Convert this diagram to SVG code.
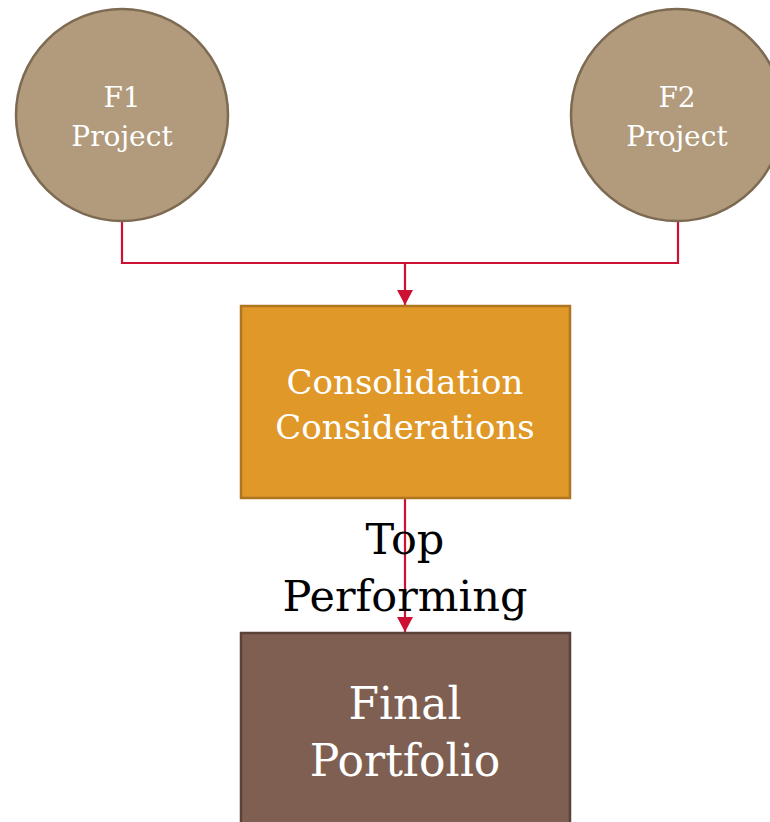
<svg xmlns="http://www.w3.org/2000/svg" width="770" height="822" viewBox="0 0 770 822">
<style>
.circ{fill:#B19B7C;stroke:#7D6A52;stroke-width:2.5}
.wt{fill:#FFFFFF;font-family:"DejaVu Serif","Liberation Serif",serif;text-anchor:middle}
.conn{fill:none;stroke:#CC1133;stroke-width:2.2}
.lbl{fill:#000000;font-family:"DejaVu Serif","Liberation Serif",serif;text-anchor:middle;font-size:43px}
</style>
<defs>
<marker id="ah" markerWidth="16" markerHeight="16" refX="15" refY="8" orient="auto" markerUnits="userSpaceOnUse" viewBox="0 0 16 16">
<path d="M0,0 L15,8 L0,16 z" fill="#CC1133"/>
</marker>
</defs>
<rect width="770" height="822" fill="#FFFFFF"/>
<g id="connectors">
<path class="conn" d="M122,221 V263 H678 V221"/>
<path class="conn" d="M405,263 V305" marker-end="url(#ah)"/>
<path class="conn" d="M405,498 V632" marker-end="url(#ah)"/>
</g>
<g id="f1">
<circle class="circ" cx="122" cy="115" r="106"/>
<text class="wt" font-size="28" x="122" y="107">F1</text>
<text class="wt" font-size="28" x="122" y="146">Project</text>
</g>
<g id="f2">
<circle class="circ" cx="677" cy="115" r="106"/>
<text class="wt" font-size="28" x="677" y="107">F2</text>
<text class="wt" font-size="28" x="677" y="146">Project</text>
</g>
<g id="consolidation">
<rect x="241" y="306" width="329" height="192" fill="#E09828" stroke="#AE7620" stroke-width="2.5"/>
<text class="wt" font-size="34" x="405" y="394">Consolidation</text>
<text class="wt" font-size="34" x="405" y="439">Considerations</text>
</g>
<g id="label">
<text class="lbl" x="405" y="554">Top</text>
<text class="lbl" x="405" y="611">Performing</text>
</g>
<g id="final">
<rect x="241" y="633" width="329" height="200" fill="#7E5F52" stroke="#5B4238" stroke-width="2.5"/>
<text class="wt" font-size="44" x="405" y="719">Final</text>
<text class="wt" font-size="44" x="405" y="776">Portfolio</text>
</g>
</svg>
